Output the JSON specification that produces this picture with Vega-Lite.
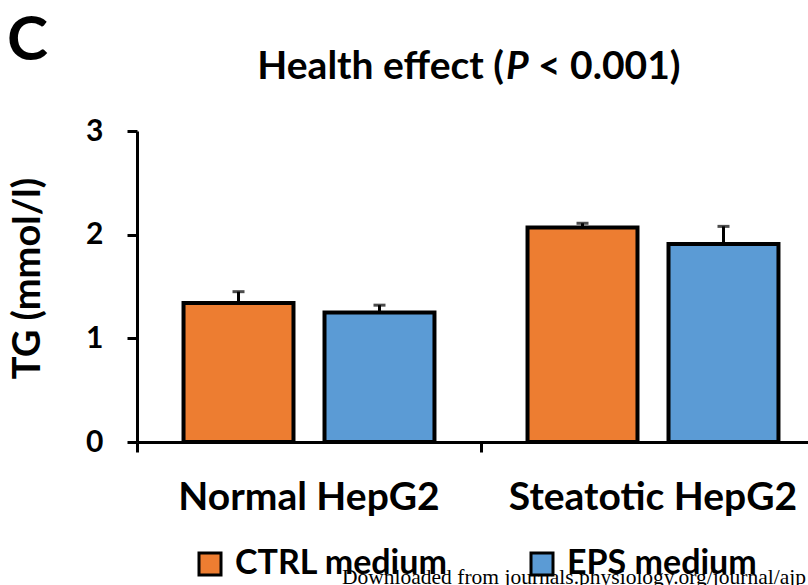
{
  "$schema": "https://vega.github.io/schema/vega-lite/v6.json",
  "width": 671,
  "height": 311,
  "autosize": {"type": "none"},
  "padding": {"left": 137, "top": 131, "right": 0, "bottom": 143},
  "background": "white",
  "config": {
    "view": {"stroke": null},
    "font": "Lato",
    "text": {"font": "Lato", "color": "black"}
  },
  "datasets": {
    "tg": [
      {"cell": "Normal HepG2", "medium": "CTRL medium", "mean": 1.34, "upper": 1.45},
      {"cell": "Normal HepG2", "medium": "EPS medium", "mean": 1.25, "upper": 1.32},
      {"cell": "Steatotic HepG2", "medium": "CTRL medium", "mean": 2.07, "upper": 2.11},
      {"cell": "Steatotic HepG2", "medium": "EPS medium", "mean": 1.91, "upper": 2.08}
    ]
  },
  "layer": [
    {
      "data": {"name": "tg"},
      "mark": {"type": "bar", "stroke": "black", "strokeWidth": 4},
      "encoding": {
        "x": {
          "field": "cell",
          "type": "nominal",
          "sort": ["Normal HepG2", "Steatotic HepG2"],
          "scale": {"range": [0, 688], "paddingInner": 0, "paddingOuter": 0},
          "axis": {
            "title": null,
            "domainColor": "black",
            "domainWidth": 3,
            "tickColor": "black",
            "tickWidth": 3,
            "tickSize": 10,
            "bandPosition": 0,
            "labelAngle": 0,
            "labelFont": "Lato",
            "labelFontSize": 39,
            "labelFontWeight": "bold",
            "labelColor": "black",
            "labelPadding": 26,
            "labelLimit": 400
          }
        },
        "xOffset": {
          "field": "medium",
          "type": "nominal",
          "sort": ["CTRL medium", "EPS medium"],
          "scale": {"paddingInner": 0.22, "paddingOuter": 0.33}
        },
        "y": {
          "field": "mean",
          "type": "quantitative",
          "scale": {"domain": [0, 3], "nice": false},
          "axis": {
            "title": "TG (mmol/l)",
            "values": [0, 1, 2, 3],
            "format": "d",
            "grid": false,
            "domainColor": "black",
            "domainWidth": 3,
            "tickColor": "black",
            "tickWidth": 3,
            "tickSize": 10,
            "labelFont": "Lato",
            "labelFontSize": 30,
            "labelFontWeight": "bold",
            "labelColor": "black",
            "labelPadding": 24,
            "titleFont": "Lato",
            "titleFontSize": 38,
            "titleFontWeight": "bold",
            "titleColor": "black",
            "titlePadding": 38,
            "titleY": 147
          }
        },
        "color": {
          "field": "medium",
          "type": "nominal",
          "scale": {"domain": ["CTRL medium", "EPS medium"], "range": ["#ED7D31", "#5B9BD5"]},
          "legend": {
            "title": null,
            "orient": "none",
            "legendX": 56,
            "legendY": 416,
            "direction": "horizontal",
            "padding": 0,
            "symbolType": "square",
            "symbolSize": 484,
            "symbolStrokeColor": "black",
            "symbolStrokeWidth": 3,
            "symbolOpacity": 1,
            "labelFont": "Lato",
            "labelFontSize": 34,
            "labelFontWeight": "bold",
            "labelColor": "black",
            "labelLimit": 400,
            "labelOffset": 8,
            "columnPadding": 77
          }
        }
      }
    },
    {
      "data": {"name": "tg"},
      "mark": {"type": "rule", "strokeWidth": 3, "color": "black"},
      "encoding": {
        "x": {"field": "cell", "type": "nominal"},
        "xOffset": {"field": "medium", "type": "nominal"},
        "y": {"field": "mean", "type": "quantitative"},
        "y2": {"field": "upper"}
      }
    },
    {
      "data": {"name": "tg"},
      "mark": {"type": "tick", "orient": "horizontal", "size": 12, "thickness": 3, "color": "black"},
      "encoding": {
        "x": {"field": "cell", "type": "nominal"},
        "xOffset": {"field": "medium", "type": "nominal"},
        "y": {"field": "upper", "type": "quantitative"}
      }
    },
    {
      "data": {"values": [{"panel": "C"}]},
      "mark": {"type": "text", "align": "left", "baseline": "alphabetic", "fontSize": 62, "fontWeight": "bold", "dx": -130, "dy": -71},
      "encoding": {
        "x": {"datum": "Normal HepG2", "bandPosition": 0},
        "y": {"datum": 3},
        "text": {"field": "panel"}
      }
    },
    {
      "data": {"values": [{"piece": "Health effect ("}]},
      "mark": {"type": "text", "align": "right", "baseline": "alphabetic", "fontSize": 39, "fontWeight": "bold", "dx": 23, "dy": -52},
      "encoding": {
        "x": {"datum": "Steatotic HepG2", "bandPosition": 0},
        "y": {"datum": 3},
        "text": {"field": "piece"}
      }
    },
    {
      "data": {"values": [{"piece": "P"}]},
      "mark": {"type": "text", "align": "left", "baseline": "alphabetic", "fontSize": 39, "fontWeight": "bold", "fontStyle": "italic", "dx": 25, "dy": -52},
      "encoding": {
        "x": {"datum": "Steatotic HepG2", "bandPosition": 0},
        "y": {"datum": 3},
        "text": {"field": "piece"}
      }
    },
    {
      "data": {"values": [{"piece": "< 0.001)"}]},
      "mark": {"type": "text", "align": "left", "baseline": "alphabetic", "fontSize": 39, "fontWeight": "bold", "dx": 57, "dy": -52},
      "encoding": {
        "x": {"datum": "Steatotic HepG2", "bandPosition": 0},
        "y": {"datum": 3},
        "text": {"field": "piece"}
      }
    },
    {
      "data": {"values": [{"note": "Downloaded from journals.physiology.org/journal/ajp"}]},
      "mark": {"type": "text", "align": "left", "baseline": "alphabetic", "font": "Liberation Serif", "fontSize": 21.5, "dx": 205, "dy": 142},
      "encoding": {
        "x": {"datum": "Normal HepG2", "bandPosition": 0},
        "y": {"datum": 0},
        "text": {"field": "note"}
      }
    }
  ]
}
